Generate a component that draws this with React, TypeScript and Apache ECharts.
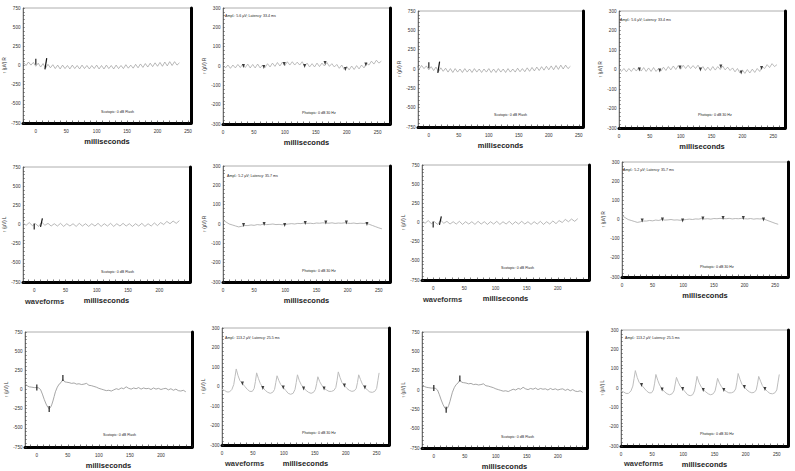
import { useEffect, useRef } from "react";
import * as echarts from "echarts";

// ---------- DATA ----------
// Scotopic flash, right eye (rows 1): samples every 4 ms starting at -20 ms
const scotRStart = -20;
const scotRStep = 4;
const scotRValues = [
  40, 0, 45, 5, 40, -10, 30, -20, 25, -35,
  15, -30, 10, -40, 5, -45, 5, -40, 0, -45,
  5, -40, 0, -45, 5, -40, 0, -45, 0, -40,
  5, -45, 0, -45, 5, -40, 0, -45, 5, -40,
  0, -40, 10, -35, 5, -35, 15, -30, 20, -25,
  25, -20, 30, -15, 35, -10, 40, -10, 45, -5,
  50, 0, 50, 5, 35,
];
const scotRMarkT = [0];
const scotRMarkV = [50];
const scotRBwaveT = [15, 18];
const scotRBwaveV = [-50, 95];

// Scotopic flash, left eye (row 2): samples every 5 ms starting at -18 ms
const scotLStart = -18;
const scotLStep = 5;
const scotLValues = [
  20, -10, 25, -15, 10, -25, 30, -10, 15, -20,
  10, -20, 15, -25, 10, -20, 10, -25, 15, -20,
  10, -25, 10, -20, 15, -25, 10, -20, 15, -25,
  10, -20, 15, -20, 10, -25, 10, -20, 15, -25,
  10, -20, 20, -15, 25, 0, 40, 10, 45, 15,
  50,
];
const scotLMarkT = [0];
const scotLMarkV = [-25];
const scotLBwaveT = [10, 13];
const scotLBwaveV = [-30, 80];

// Scotopic flash, left eye (row 3)
const flashTimes = [
  -18, -15, -12, -8, -4, 0, 3, 6, 9, 12, 15, 18, 20, 22, 24, 26, 28, 30, 33, 36,
  39, 42, 45, 48, 52, 56, 60, 64, 68, 72, 76, 80, 84, 88, 92, 96, 100, 104, 108, 112,
  116, 120, 124, 128, 132, 136, 140, 144, 148, 152, 156, 160, 164, 168, 172, 176, 180, 184, 188, 192,
  196, 200, 204, 208, 212, 216, 220, 224, 228, 232, 236, 240,
];
const flashValues = [
  70, 45, 35, 30, 25, 25, 20, 0, -60, -130, -190, -235, -250, -235, -200, -150, -90, -30, 30, 70,
  90, 130, 100, 95, 90, 80, 85, 70, 75, 65, 70, 80, 55, 50, 40, 30, 15, 5, -5, -15,
  -10, -20, -5, 10, 0, 20, 10, 35, 15, 5, 20, 10, 25, 5, 20, 10, 15, 0, 20, 5,
  15, 0, 10, 15, -5, 10, -10, 5, -15, -20, -10, -30,
];
const flashMarkT = [0, 20, 42];
const flashMarkV = [25, -255, 150];

// Photopic 30 Hz, right eye (row 1): samples every 4 ms from 0
const phoR1Start = 0;
const phoR1Step = 4;
const phoR1Values = [
  5, -10, 5, -12, 5, -10, 8, -8, 10, -8,
  10, -10, 8, -10, 10, -10, 5, -8, 12, -5,
  15, -2, 18, 0, 20, 2, 22, 5, 22, 5,
  20, 5, 22, 0, 15, -5, 12, -5, 15, -3,
  15, 0, 18, -2, 12, -5, 8, -12, 5, -18,
  -2, -20, 0, -18, 2, -15, 5, -10, 15, 5,
  25, 10, 30, 15, 25,
];
const phoMarkT = [33, 66, 99, 132, 165, 198, 231];
const phoR1MarkV = [0, -5, 10, 0, 15, -15, 8];

// Photopic 30 Hz, right eye (row 2): samples every 5 ms from 0
const phoR2Start = 0;
const phoR2Step = 5;
const phoR2Values = [
  20, 10, 0, -5, -10, -15, -12, -8, -8, -5,
  -7, -3, -5, 0, -3, -2, 0, -3, -2, -4,
  -2, 0, 2, 0, 3, 2, 5, 3, 4, 2,
  5, 4, 6, 5, 4, 6, 3, 5, 4, 6,
  4, 3, 5, 2, 4, 3, 4, -2, -8, -14,
  -20, -25,
];
const phoR2MarkV = [-5, 0, -5, 5, 8, 8, 0];

// Photopic 30 Hz, left eye (row 3)
const phoLTimes = [
  0, 4, 8, 12, 16, 19, 21, 23, 26, 29, 33, 37, 41, 45, 49, 52, 54, 56, 59, 62,
  66, 70, 74, 78, 82, 85, 87, 89, 92, 95, 99, 103, 107, 111, 115, 118, 120, 122, 125, 128,
  132, 136, 140, 144, 148, 151, 153, 155, 158, 161, 165, 169, 173, 177, 181, 184, 186, 188, 191, 194,
  198, 202, 206, 210, 214, 217, 219, 221, 224, 227, 231, 235, 239, 243, 247, 250, 252, 254,
];
const phoLValues = [
  -15, -20, -28, -28, -15, 10, 50, 90, 55, 30, 15, 0, -15, -25, -25, -10, 25, 70, 40, 15,
  -5, -20, -30, -35, -30, -15, 20, 55, 30, 10, -5, -20, -35, -40, -35, -15, 20, 60, 30, 10,
  -8, -20, -30, -35, -30, -15, 15, 50, 25, 8, -8, -18, -25, -25, -20, -5, 30, 75, 45, 20,
  5, -10, -20, -25, -22, -10, 20, 60, 35, 12, -5, -18, -28, -30, -25, -10, 30, 70,
];
const phoLMarkV = [15, -8, -5, -10, -10, 5, -5];

// Axis tick labels
const scotYLabels = [-750, -500, -250, 0, 250, 500, 750];
const phoYLabels = [-300, -200, -100, 0, 100, 200, 300];
const xLabelsTo250 = [0, 50, 100, 150, 200, 250];
const xLabelsTo200 = [0, 50, 100, 150, 200];

// Texts
const amplR1 = "Ampl.: 5.6 µV; Latency: 33.4 ms";
const amplR2 = "Ampl.: 5.2 µV; Latency: 35.7 ms";
const amplL = "Ampl.: 113.2 µV; Latency: 25.5 ms";
const scotText = "Scotopic: 0 dB Flash";
const phoText = "Photopic: 0 dB 30 Hz";
const xName = "milliseconds";
const wfText = "waveforms";

const FONT = "'Liberation Sans', Arial, sans-serif";

type Kind = "scoR" | "phoR1" | "scoL" | "phoR2" | "scoF" | "phoL";

const layout: { l: number; t: number; w: number; h: number; kind: Kind; xmin: number; xmax: number; to250: boolean }[] = [
  { l: 23, t: 8, w: 168, h: 115, kind: "scoR", xmin: -21, xmax: 255, to250: true },
  { l: 223, t: 8, w: 167, h: 116, kind: "phoR1", xmin: 0, xmax: 270, to250: true },
  { l: 418, t: 11, w: 165, h: 116, kind: "scoR", xmin: -18, xmax: 257, to250: true },
  { l: 619, t: 11, w: 166, h: 117, kind: "phoR1", xmin: 0, xmax: 269, to250: true },
  { l: 23, t: 167, w: 167, h: 115, kind: "scoL", xmin: -18, xmax: 249, to250: false },
  { l: 223, t: 166, w: 167, h: 116, kind: "phoR2", xmin: 0, xmax: 268, to250: true },
  { l: 422, t: 165, w: 167, h: 115, kind: "scoL", xmin: -18, xmax: 250, to250: false },
  { l: 622, t: 162, w: 166, h: 115, kind: "phoR2", xmin: 0, xmax: 271, to250: true },
  { l: 25, t: 332, w: 167, h: 115, kind: "scoF", xmin: -19, xmax: 250, to250: false },
  { l: 222, t: 328, w: 167, h: 117, kind: "phoL", xmin: 0, xmax: 270, to250: true },
  { l: 422, t: 332, w: 165, h: 116, kind: "scoF", xmin: -19, xmax: 247, to250: false },
  { l: 621, t: 330, w: 167, h: 116, kind: "phoL", xmin: 0, xmax: 268, to250: true },
];

const pairs = (t: number[], v: number[]) => v.map((y, i) => [t[i], y]);
const stepPairs = (start: number, step: number, v: number[]) => v.map((y, i) => [start + step * i, y]);

function buildOption() {
  const grid: any[] = [];
  const xAxis: any[] = [];
  const yAxis: any[] = [];
  const series: any[] = [];

  layout.forEach((p, i) => {
    const isScot = p.kind.startsWith("sco");
    const lim = isScot ? 750 : 300;
    const yStep = isScot ? 50 : 20;
    const eye = p.kind === "scoL" || p.kind === "scoF" || p.kind === "phoL" ? "L" : "R";
    grid.push({
      left: p.l, top: p.t, width: p.w, height: p.h,
      show: true, borderColor: "#9a9a9a", borderWidth: 0.8, backgroundColor: "#fff",
      containLabel: false, outerBoundsMode: "none",
    });
    const xTicks: number[] = [];
    for (let v = Math.ceil(p.xmin / 10) * 10; v <= p.xmax; v += 10) xTicks.push(v);
    const yTicks: number[] = [];
    for (let v = -lim; v <= lim; v += yStep) yTicks.push(v);
    xAxis.push({
      type: "value", gridIndex: i, min: p.xmin, max: p.xmax, position: "bottom",
      axisLine: { show: true, onZero: false, lineStyle: { color: "#000", width: 3 } },
      axisTick: { show: true, inside: true, length: 2.5, customValues: xTicks, lineStyle: { color: "#222", width: 0.6 } },
      axisLabel: { show: true, customValues: p.to250 ? xLabelsTo250 : xLabelsTo200, fontSize: 4.6, margin: 6, color: "#333", fontFamily: FONT },
      splitLine: { show: false },
      name: xName, nameLocation: "middle", nameGap: 14,
      nameTextStyle: { fontSize: 7.5, fontWeight: "bold", color: "#222", fontFamily: FONT },
    });
    yAxis.push({
      type: "value", gridIndex: i, min: -lim, max: lim, position: "left",
      axisLine: { show: true, onZero: false, lineStyle: { color: "#555", width: 0.8 } },
      axisTick: { show: true, inside: true, length: 2, customValues: yTicks, lineStyle: { color: "#444", width: 0.5 } },
      axisLabel: { show: true, customValues: isScot ? scotYLabels : phoYLabels, fontSize: 4.6, margin: 2.5, color: "#333", fontFamily: FONT },
      splitLine: { show: false },
      name: "↑ (µV) " + eye, nameLocation: "middle", nameGap: 11, nameRotate: 90,
      nameTextStyle: { fontSize: 4.5, color: "#333", fontFamily: FONT },
    });
    yAxis.push({
      type: "value", gridIndex: i, min: -lim, max: lim, position: "right",
      axisLine: { show: true, onZero: false, lineStyle: { color: "#000", width: 3 } },
      axisTick: { show: false }, axisLabel: { show: false }, splitLine: { show: false },
    });

    const xi = i;
    const yi = 2 * i;
    const lineSeries = (data: number[][], color: string, width: number) => ({
      type: "line", xAxisIndex: xi, yAxisIndex: yi, data, showSymbol: false, silent: true,
      lineStyle: { color, width }, z: 3,
    });
    const markSeries = (data: number[][], symbol: string, size: any, rotate: number) => ({
      type: "scatter", xAxisIndex: xi, yAxisIndex: yi, data, symbol, symbolSize: size, symbolRotate: rotate,
      itemStyle: { color: "#111" }, silent: true, z: 5,
    });
    const bwave = (t: number[], v: number[]) => ({
      type: "line", xAxisIndex: xi, yAxisIndex: yi, data: pairs(t, v), showSymbol: false, silent: true,
      lineStyle: { color: "#111", width: 1.2 }, z: 5,
    });

    if (p.kind === "scoR") {
      series.push(lineSeries(stepPairs(scotRStart, scotRStep, scotRValues), "#999", 0.7));
      series.push(markSeries(pairs(scotRMarkT, scotRMarkV), "rect", [1.4, 6], 0));
      series.push(bwave(scotRBwaveT, scotRBwaveV));
    } else if (p.kind === "scoL") {
      series.push(lineSeries(stepPairs(scotLStart, scotLStep, scotLValues), "#999", 0.7));
      series.push(markSeries(pairs(scotLMarkT, scotLMarkV), "rect", [1.4, 6], 0));
      series.push(bwave(scotLBwaveT, scotLBwaveV));
    } else if (p.kind === "scoF") {
      series.push(lineSeries(pairs(flashTimes, flashValues), "#8f8f8f", 0.8));
      series.push(markSeries(pairs(flashMarkT, flashMarkV), "rect", [1.4, 6], 0));
    } else if (p.kind === "phoR1") {
      series.push(lineSeries(stepPairs(phoR1Start, phoR1Step, phoR1Values), "#a0a0a0", 0.7));
      series.push(markSeries(pairs(phoMarkT, phoR1MarkV), "triangle", [3, 4], 180));
    } else if (p.kind === "phoR2") {
      series.push(lineSeries(stepPairs(phoR2Start, phoR2Step, phoR2Values), "#999", 0.7));
      series.push(markSeries(pairs(phoMarkT, phoR2MarkV), "triangle", [3, 4], 180));
    } else {
      series.push(lineSeries(pairs(phoLTimes, phoLValues), "#bdbdbd", 1));
      series.push(markSeries(pairs(phoMarkT, phoLMarkV), "triangle", [3, 4], 180));
    }
  });

  const smallText = (x: number, y: number, text: string) => ({
    type: "text", x, y, silent: true, z: 10,
    style: { text, fontSize: 3.6, fill: "#222", fontFamily: FONT, verticalAlign: "middle", align: "left" },
  });
  const wf = (x: number, y: number) => ({
    type: "text", x, y, silent: true, z: 10,
    style: { text: wfText, fontSize: 7.5, fontWeight: "bold", fill: "#333", fontFamily: FONT, verticalAlign: "middle", align: "left" },
  });

  const graphic = [
    smallText(225, 16, amplR1),
    smallText(620, 20, amplR1),
    smallText(227, 176, amplR2),
    smallText(623, 170, amplR2),
    smallText(225, 338, amplL),
    smallText(625, 338, amplL),
    smallText(101, 112, scotText),
    smallText(302, 113, phoText),
    smallText(494, 115, scotText),
    smallText(698, 115, phoText),
    smallText(101, 272, scotText),
    smallText(302, 271, phoText),
    smallText(501, 268, scotText),
    smallText(700, 267, phoText),
    smallText(103, 435, scotText),
    smallText(302, 433, phoText),
    smallText(501, 437, scotText),
    smallText(700, 434, phoText),
    wf(25, 301),
    wf(423, 299),
    wf(225, 463),
    wf(624, 463),
  ];

  return {
    animation: false,
    backgroundColor: "#fff",
    grid, xAxis, yAxis, series, graphic,
  };
}

export default function App() {
  const ref = useRef<HTMLDivElement>(null);
  useEffect(() => {
    document.body.style.margin = "0";
    const chart = echarts.init(ref.current!, null, { renderer: "svg" });
    chart.setOption(buildOption() as any);
    return () => chart.dispose();
  }, []);
  return <div ref={ref} style={{ width: 795, height: 471, background: "#fff" }} />;
}
